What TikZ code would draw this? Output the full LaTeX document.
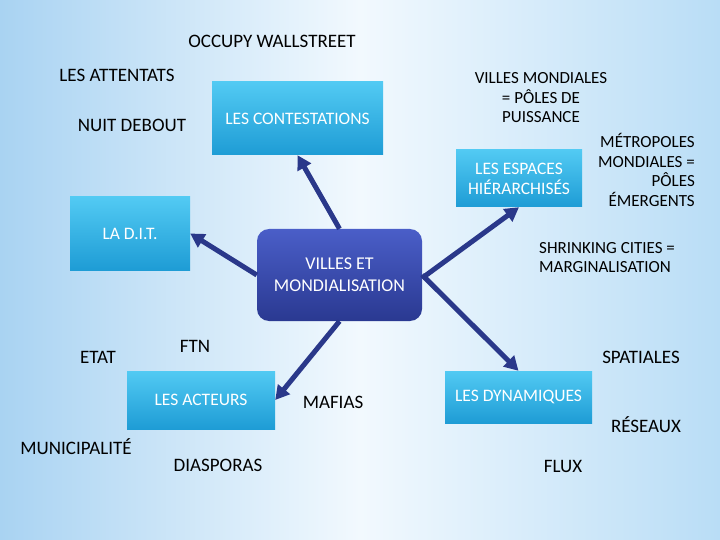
\documentclass[tikz,border=0pt]{standalone}
\usepackage{fontspec}
\setmainfont{Carlito}
\usetikzlibrary{arrows.meta}
\definecolor{bgblue}{HTML}{A9D3F2}
\definecolor{bgmid}{HTML}{F2F9FE}
\definecolor{bgright}{HTML}{B9DDF6}
\definecolor{cyantop}{HTML}{52CAF3}
\definecolor{cyanbot}{HTML}{1E9CD5}
\definecolor{navytop}{HTML}{4A5EC8}
\definecolor{navybot}{HTML}{2A3991}
\definecolor{arrowblue}{HTML}{2A388A}
\tikzset{
  cbox/.style={rectangle, inner sep=0pt, top color=cyantop, bottom color=cyanbot, text=white, align=center, font=\fontsize{17.5}{20}\selectfont},
  hub/.style={rectangle, rounded corners=12pt, inner sep=0pt, top color=navytop, bottom color=navybot, text=white, align=center, font=\fontsize{18}{22}\selectfont},
  lab/.style={inner sep=0pt, text=black, font=\fontsize{19}{22}\selectfont},
  slab/.style={inner sep=0pt, text=black, align=center, font=\fontsize{17}{19.5}\selectfont},
  link/.style={draw=arrowblue, line width=5pt, -{Triangle[length=14pt,width=15pt]}}
}
\begin{document}
\begin{tikzpicture}[x=1pt,y=-1pt]
\useasboundingbox (0,0) rectangle (720,540);
\shade[left color=bgblue, right color=bgright, middle color=bgmid] (0,0) rectangle (720,540);
% boxes
\node[cbox, minimum width=171pt, minimum height=73pt] (contest) at (297.5,118.5) {LES CONTESTATIONS};
\node[cbox, minimum width=126pt, minimum height=57pt] (espaces) at (519,178.5) {LES ESPACES\\HIÉRARCHISÉS};
\node[cbox, minimum width=120pt, minimum height=73pt] (dit) at (130,233.5) {LA D.I.T.};
\node[cbox, minimum width=148pt, minimum height=58pt] (acteurs) at (201,400) {LES ACTEURS};
\node[cbox, minimum width=147pt, minimum height=52pt] (dyn) at (518.5,397) {LES DYNAMIQUES};
\node[hub, minimum width=165pt, minimum height=92pt] (hub) at (339.5,275) {VILLES ET\\MONDIALISATION};
% arrows
\draw[link] (hub.north) -- (contest.south);
\draw[link] ([yshift=-3pt]hub.east) -- (espaces.south);
\draw[link] (hub.west) -- (dit.east);
\draw[link] (hub.south) -- (acteurs.east);
\draw[link] (hub.east) -- (dyn.north);
% labels
\node[lab] (occupy) at (272,41) {OCCUPY WALLSTREET};
\node[lab] (attentats) at (117,75) {LES ATTENTATS};
\node[lab] (nuit) at (132,125) {NUIT DEBOUT};
\node[slab] (villes) at (541,98) {VILLES MONDIALES\\= PÔLES DE\\PUISSANCE};
\node[slab, align=right, anchor=east] (metro) at (695,170) {MÉTROPOLES\\MONDIALES =\\PÔLES\\ÉMERGENTS};
\node[slab, align=left, anchor=west] (shrink) at (539,257.5) {SHRINKING CITIES =\\MARGINALISATION};
\node[lab] (etat) at (98,357) {ETAT};
\node[lab] (ftn) at (195,346) {FTN};
\node[lab] (mafias) at (333,402) {MAFIAS};
\node[lab] (spatiales) at (641,357) {SPATIALES};
\node[lab] (reseaux) at (646,425) {RÉSEAUX};
\node[lab] (muni) at (76,447) {MUNICIPALITÉ};
\node[lab] (diasporas) at (218,465) {DIASPORAS};
\node[lab] (flux) at (563,466) {FLUX};
\end{tikzpicture}
\end{document}
